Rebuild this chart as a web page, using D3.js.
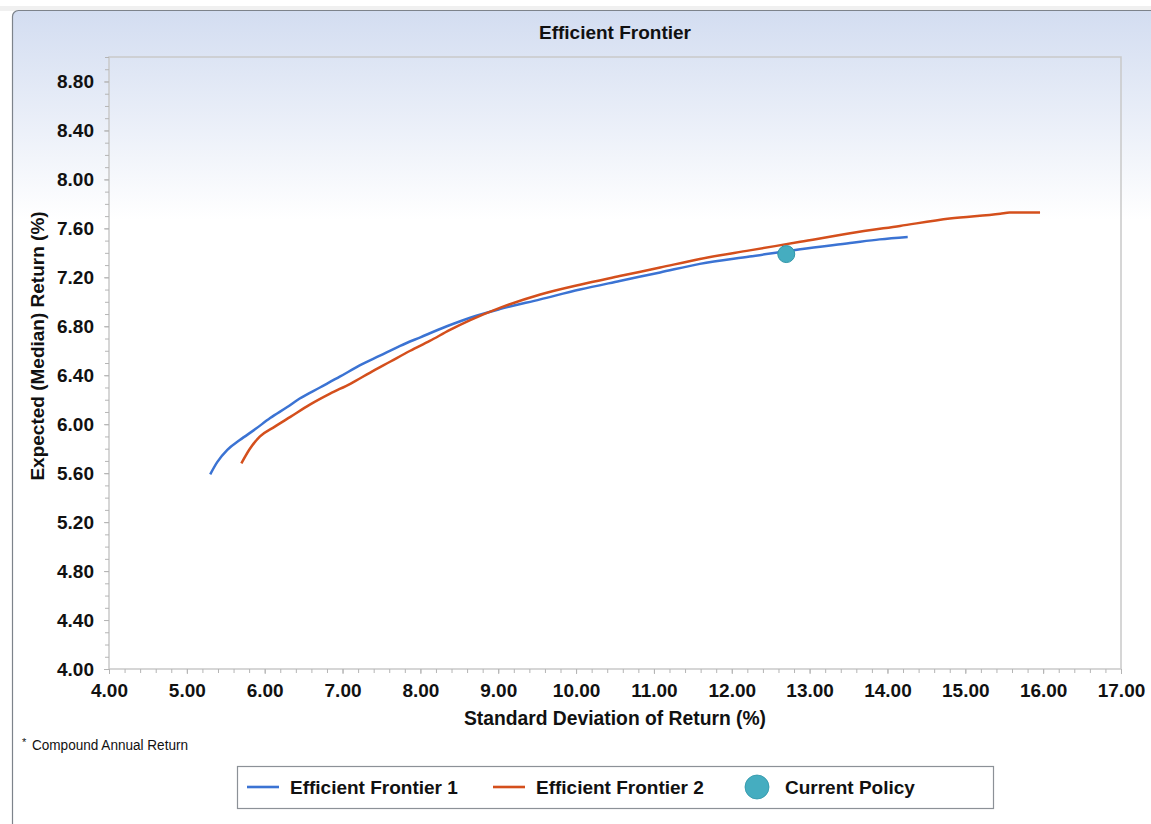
<!DOCTYPE html>
<html>
<head>
<meta charset="utf-8">
<script src="https://cdn.jsdelivr.net/npm/d3@7"></script>
<style>
  html, body { margin: 0; padding: 0; background: #ffffff; }
  svg { display: block; }
  text { font-family: "Liberation Sans", Arial, sans-serif; fill: #111111; }
</style>
</head>
<body>
<svg id="chart" width="1151" height="824"></svg>
<script>
// Efficient Frontier 1: standard deviation (%) and expected median return (%)
const sdFrontier1 = [5.30, 5.39, 5.52, 5.68, 5.88, 6.07, 6.29, 6.45, 6.71, 6.97, 7.22, 7.48,
  7.74, 8.00, 8.34, 8.64, 9.02, 9.54, 10.05, 10.56, 11.08, 11.59, 12.23, 12.88, 13.52, 13.90, 14.26];
const retFrontier1 = [5.59, 5.69, 5.79, 5.87, 5.96, 6.05, 6.14, 6.21, 6.30, 6.39, 6.48, 6.56,
  6.64, 6.71, 6.80, 6.87, 6.94, 7.02, 7.10, 7.17, 7.24, 7.31, 7.37, 7.43, 7.48, 7.51, 7.53];

// Efficient Frontier 2
const sdFrontier2 = [5.70, 5.81, 5.94, 6.13, 6.33, 6.58, 6.84, 7.10, 7.35, 7.61, 7.87, 8.12,
  8.38, 8.64, 9.02, 9.54, 10.05, 10.56, 11.08, 11.59, 12.23, 12.88, 13.52, 14.16, 14.80, 15.45, 15.57, 15.96];
const retFrontier2 = [5.68, 5.80, 5.90, 5.98, 6.06, 6.16, 6.25, 6.33, 6.42, 6.51, 6.60, 6.68,
  6.77, 6.85, 6.95, 7.06, 7.14, 7.21, 7.28, 7.35, 7.42, 7.49, 7.56, 7.62, 7.68, 7.72, 7.73, 7.73];

// Current policy portfolio
const policySd = [12.70];
const policyReturn = [7.39];

// Axis ticks
const xTickValues = [4, 5, 6, 7, 8, 9, 10, 11, 12, 13, 14, 15, 16, 17];
const yTickValues = [4.0, 4.4, 4.8, 5.2, 5.6, 6.0, 6.4, 6.8, 7.2, 7.6, 8.0, 8.4, 8.8];

const seriesNames = ["Efficient Frontier 1", "Efficient Frontier 2", "Current Policy"];
const colors = { f1: "#3b73d3", f2: "#d44f1c", policy: "#45adc0", policyStroke: "#2f95a8" };

const svg = d3.select("#chart");
const plot = { left: 109, right: 1121, top: 57, bottom: 669 };

// Panel background with soft blue gradient
const defs = svg.append("defs");
const grad = defs.append("linearGradient")
  .attr("id", "panelGrad").attr("gradientUnits", "userSpaceOnUse")
  .attr("x1", 0).attr("y1", 11).attr("x2", 0).attr("y2", 220);
grad.append("stop").attr("offset", 0).attr("stop-color", "#d3ddf1");
grad.append("stop").attr("offset", 0.3).attr("stop-color", "#e0e7f5");
grad.append("stop").attr("offset", 1).attr("stop-color", "#ffffff");

svg.append("rect").attr("x", 0).attr("y", 6).attr("width", 1151).attr("height", 5).attr("fill", "#f0f0f0");
svg.append("rect")
  .attr("x", 12.5).attr("y", 10.5).attr("width", 1160).attr("height", 840).attr("rx", 6)
  .attr("fill", "url(#panelGrad)").attr("stroke", "#7d838b").attr("stroke-width", 1.2);

// Scales
const x = d3.scaleLinear().domain([4, 17]).range([plot.left, plot.right]);
const y = d3.scaleLinear().domain([4, 9]).range([plot.bottom, plot.top]);

// Plot frame
svg.append("rect")
  .attr("x", plot.left).attr("y", plot.top)
  .attr("width", plot.right - plot.left).attr("height", plot.bottom - plot.top)
  .attr("fill", "none").attr("stroke", "#c9c9c9").attr("stroke-width", 1.5);

// Minor ticks
const xMinor = d3.range(4, 17.001, 0.2);
const yMinor = d3.range(4, 9.001, 0.1);
svg.append("g").attr("transform", `translate(0,${plot.bottom})`)
  .call(d3.axisBottom(x).tickValues(xMinor).tickSize(4).tickFormat(""))
  .call(g => g.select(".domain").remove())
  .call(g => g.selectAll("line").attr("stroke", "#b5b5b5"));
svg.append("g").attr("transform", `translate(${plot.left},0)`)
  .call(d3.axisLeft(y).tickValues(yMinor).tickSize(4).tickFormat(""))
  .call(g => g.select(".domain").remove())
  .call(g => g.selectAll("line").attr("stroke", "#b5b5b5"));

// Major axes
svg.append("g").attr("transform", `translate(0,${plot.bottom})`)
  .call(d3.axisBottom(x).tickValues(xTickValues).tickSize(5).tickPadding(10).tickFormat(d3.format(".2f")))
  .call(g => g.select(".domain").remove())
  .call(g => g.selectAll("line").attr("stroke", "#b5b5b5"))
  .call(g => g.selectAll("text")
    .attr("font-family", "'Liberation Sans', Arial, sans-serif")
    .attr("font-size", 19).attr("font-weight", "bold").attr("fill", "#111"));

svg.append("g").attr("transform", `translate(${plot.left},0)`)
  .call(d3.axisLeft(y).tickValues(yTickValues).tickSize(5).tickPadding(10).tickFormat(d3.format(".2f")))
  .call(g => g.select(".domain").remove())
  .call(g => g.selectAll("line").attr("stroke", "#b5b5b5"))
  .call(g => g.selectAll("text")
    .attr("font-family", "'Liberation Sans', Arial, sans-serif")
    .attr("font-size", 19).attr("font-weight", "bold").attr("fill", "#111"));

// Frontier lines
const line = d3.line().x(d => x(d[0])).y(d => y(d[1])).curve(d3.curveMonotoneX);
const f1 = d3.zip(sdFrontier1, retFrontier1);
const f2 = d3.zip(sdFrontier2, retFrontier2);

svg.append("path").datum(f1).attr("d", line)
  .attr("fill", "none").attr("stroke", colors.f1).attr("stroke-width", 2.5)
  .attr("stroke-linejoin", "round");
svg.append("path").datum(f2).attr("d", line)
  .attr("fill", "none").attr("stroke", colors.f2).attr("stroke-width", 2.5)
  .attr("stroke-linejoin", "round");

// Current policy point
svg.selectAll("circle.policy").data(d3.zip(policySd, policyReturn)).enter()
  .append("circle").attr("class", "policy")
  .attr("cx", d => x(d[0])).attr("cy", d => y(d[1])).attr("r", 8.5)
  .attr("fill", colors.policy).attr("stroke", colors.policyStroke).attr("stroke-width", 1);

// Titles
svg.append("text").attr("x", (plot.left + plot.right) / 2).attr("y", 39)
  .attr("text-anchor", "middle").attr("font-size", 19).attr("font-weight", "bold")
  .text("Efficient Frontier");

svg.append("text").attr("x", (plot.left + plot.right) / 2).attr("y", 725)
  .attr("text-anchor", "middle").attr("font-size", 19.3).attr("font-weight", "bold")
  .text("Standard Deviation of Return (%)");

svg.append("text").attr("transform", "translate(44,346) rotate(-90)")
  .attr("text-anchor", "middle").attr("font-size", 19).attr("font-weight", "bold")
  .text("Expected (Median) Return (%)");

// Footnote
svg.append("text").attr("x", 22).attr("y", 746).attr("font-size", 11).text("*");
svg.append("text").attr("x", 32).attr("y", 750).attr("font-size", 14)
  .attr("textLength", 156).attr("lengthAdjust", "spacingAndGlyphs")
  .text("Compound Annual Return");

// Legend
const legend = svg.append("g");
legend.append("rect").attr("x", 237.5).attr("y", 766.5).attr("width", 756).attr("height", 42)
  .attr("fill", "#ffffff").attr("stroke", "#8c9197").attr("stroke-width", 1.2);

const legendItems = [
  { name: seriesNames[0], type: "line", color: colors.f1, x: 247 },
  { name: seriesNames[1], type: "line", color: colors.f2, x: 493 },
  { name: seriesNames[2], type: "dot", color: colors.policy, x: 745 }
];
const ly = 787;
legendItems.forEach(item => {
  if (item.type === "line") {
    legend.append("line").attr("x1", item.x).attr("x2", item.x + 32)
      .attr("y1", ly).attr("y2", ly).attr("stroke", item.color).attr("stroke-width", 2.6);
    legend.append("text").attr("x", item.x + 43).attr("y", ly + 7)
      .attr("font-size", 19).attr("font-weight", "bold").text(item.name);
  } else {
    legend.append("circle").attr("cx", item.x + 12).attr("cy", ly).attr("r", 12)
      .attr("fill", item.color).attr("stroke", colors.policyStroke).attr("stroke-width", 0.8);
    legend.append("text").attr("x", item.x + 40).attr("y", ly + 7)
      .attr("font-size", 19).attr("font-weight", "bold").text(item.name);
  }
});
</script>
</body>
</html>
